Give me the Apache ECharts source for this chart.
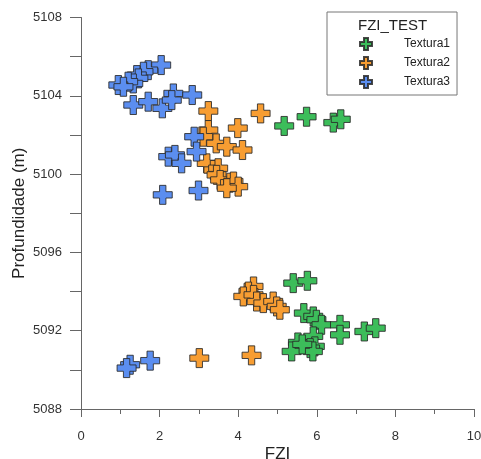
<!DOCTYPE html>
<html>
<head>
<meta charset="utf-8">
<script src="https://cdn.jsdelivr.net/npm/echarts@6/dist/echarts.min.js"></script>
<style>
  html, body { margin: 0; padding: 0; background: #fff; }
  #chart { width: 481px; height: 459px; }
</style>
</head>
<body>
<div id="chart"></div>
<script>
// valores (FZI, profundidade)
const textura1 = [
  [5.17, 5102.46], [5.74, 5102.93], [6.42, 5102.63], [6.61, 5102.80],
  [5.40, 5094.43], [5.76, 5094.55],
  [5.67, 5092.90], [5.91, 5092.73], [5.99, 5092.56], [6.12, 5092.30],
  [6.59, 5092.30], [6.59, 5091.79], [7.21, 5091.96], [7.50, 5092.13],
  [5.52, 5091.40], [5.91, 5091.71], [5.95, 5091.20], [5.83, 5091.11],
  [5.90, 5090.94], [5.36, 5090.94], [5.63, 5091.30]
];
const textura2 = [
  [3.24, 5103.22], [4.57, 5103.10], [3.99, 5102.35], [3.24, 5102.25],
  [3.11, 5101.91], [3.44, 5101.57], [3.71, 5101.40], [4.11, 5101.23],
  [3.20, 5100.55], [3.37, 5100.21], [3.49, 5100.30], [3.45, 5099.96],
  [3.54, 5099.70], [3.79, 5099.56], [3.88, 5099.62], [4.00, 5099.36],
  [3.71, 5099.28],
  [4.39, 5094.26], [4.26, 5094.00], [4.13, 5093.75], [4.39, 5093.83],
  [4.47, 5093.49], [4.64, 5093.41], [4.89, 5093.49], [4.98, 5093.24],
  [5.06, 5093.07],
  [3.01, 5090.60], [4.34, 5090.74]
];
const textura3 = [
  [2.04, 5105.57], [1.71, 5105.31], [1.59, 5105.23], [1.42, 5105.06],
  [1.46, 5104.89], [1.33, 5104.63], [1.20, 5104.72], [0.95, 5104.55],
  [1.08, 5104.46], [1.33, 5103.53], [1.71, 5103.70], [2.07, 5103.36],
  [2.35, 5104.12], [2.31, 5103.78], [2.83, 5104.04],
  [2.88, 5101.91], [2.94, 5101.15], [2.22, 5100.89], [2.39, 5100.98],
  [2.56, 5100.55], [2.08, 5098.94], [2.99, 5099.16],
  [1.25, 5090.26], [1.16, 5090.09], [1.76, 5090.47]
];
const seriesNames = ['Textura1', 'Textura2', 'Textura3'];
const seriesColors = ['#3cbd5a', '#f79d32', '#5b8ef0'];

const cross = 'path://M6,0H12V6H18V12H12V18H6V12H0V6H6Z';
const font = 'Liberation Sans, Arial, sans-serif';

const chart = echarts.init(document.getElementById('chart'));

function makeSeries(name, data, color) {
  return {
    name: name,
    type: 'scatter',
    data: data,
    symbol: cross,
    symbolSize: 19,
    itemStyle: { color: color, opacity: 1, borderColor: 'rgba(40,40,40,0.85)', borderWidth: 1 },
    emphasis: { disabled: true }
  };
}

const axisCommon = {
  axisLine: { show: true, onZero: false, lineStyle: { color: '#666', width: 1 } },
  axisTick: { show: true, inside: false, length: 8, lineStyle: { color: '#666' } },
  minorTick: { show: true, splitNumber: 2, length: 5, lineStyle: { color: '#666' } },
  splitLine: { show: false },
  axisLabel: { color: '#333', fontFamily: font, fontSize: 13 },
  nameTextStyle: { color: '#222', fontFamily: font, fontSize: 17 }
};

chart.setOption({
  animation: false,
  backgroundColor: '#fff',
  grid: { left: 81, right: 7, top: 17.5, bottom: 50, containLabel: false, outerBoundsMode: 'none' },
  xAxis: Object.assign({}, axisCommon, {
    type: 'value', min: 0, max: 10, interval: 2,
    name: 'FZI', nameLocation: 'middle', nameGap: 37, nameMoveOverlap: false,
    axisLabel: Object.assign({}, axisCommon.axisLabel, { margin: 21 })
  }),
  yAxis: Object.assign({}, axisCommon, {
    type: 'value', min: 5088, max: 5108, interval: 4,
    name: 'Profundidade (m)', nameLocation: 'middle', nameGap: 53, nameMoveOverlap: false,
    axisTick: Object.assign({}, axisCommon.axisTick, { length: 11 }),
    minorTick: Object.assign({}, axisCommon.minorTick, { length: 11 }),
    axisLabel: Object.assign({}, axisCommon.axisLabel, { margin: 19, formatter: v => String(v) })
  }),
  legend: {
    orient: 'vertical',
    left: 327, top: 12,
    padding: [25, 7, 6, 32],
    borderColor: '#777', borderWidth: 1,
    itemGap: 5, itemWidth: 12, itemHeight: 12,
    data: seriesNames.map(n => ({ name: n, icon: cross })),
    textStyle: { color: '#222', fontFamily: font, fontSize: 12, padding: [0, 0, 0, 27] }
  },
  graphic: [{
    type: 'text', left: 358, top: 18,
    style: { text: 'FZI_TEST', font: '15px ' + font, fill: '#222' }
  }],
  series: [
    makeSeries(seriesNames[0], textura1, seriesColors[0]),
    makeSeries(seriesNames[1], textura2, seriesColors[1]),
    makeSeries(seriesNames[2], textura3, seriesColors[2])
  ]
});
</script>
</body>
</html>
